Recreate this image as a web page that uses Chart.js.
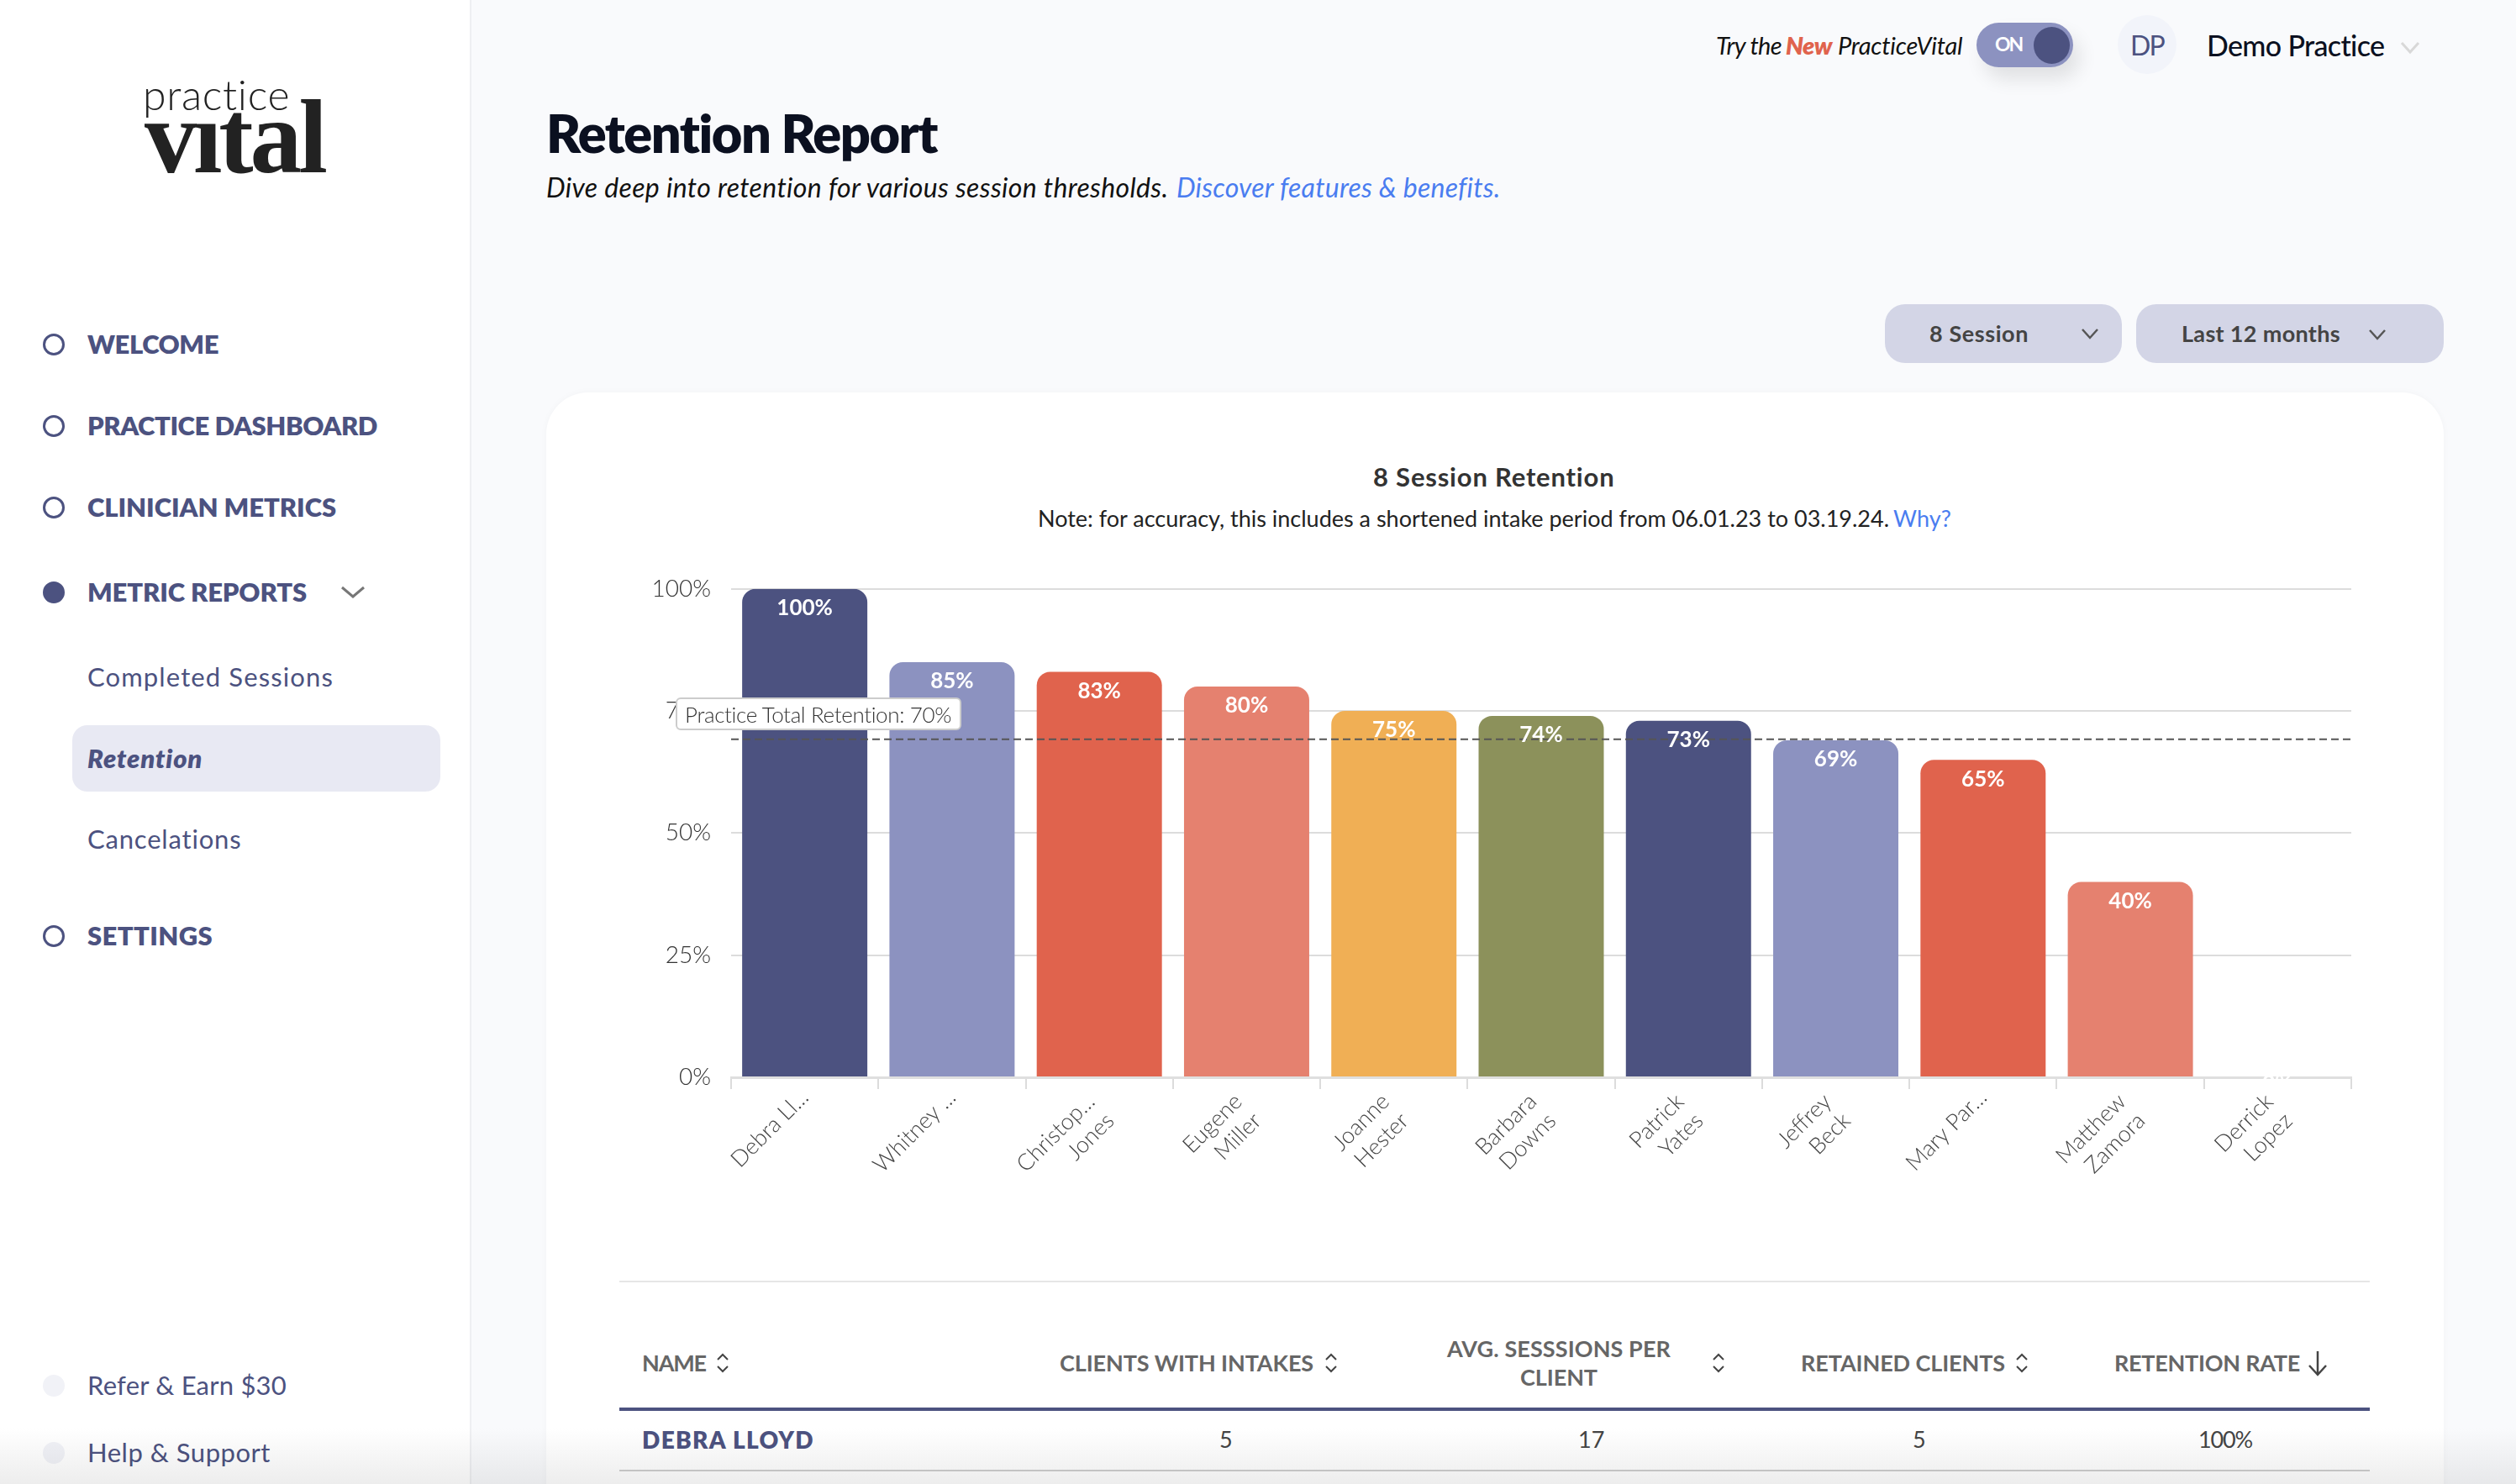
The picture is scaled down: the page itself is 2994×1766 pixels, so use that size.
<!DOCTYPE html>
<html>
<head>
<meta charset="utf-8">
<title>Retention Report</title>
<script src="https://cdn.jsdelivr.net/npm/chart.js@4"></script>
<style>
html, body { margin: 0; padding: 0; width: 2994px; height: 1766px; overflow: hidden; background: #f9fafc; font-family: Lato, sans-serif; }
.box { position: absolute; box-sizing: border-box; }
.t { position: absolute; white-space: nowrap; transform: translateY(-50%); line-height: 1.2; }
.nav { color: #4c5280; font-weight: 800; font-size: 31px; }
.sub { color: #4c5280; font-weight: 400; font-size: 31px; }
.dot { position: absolute; box-sizing: border-box; left: 51px; width: 26px; height: 26px; border-radius: 50%; border: 3px solid #4c5280; transform: translateY(-50%); }
.th { color: #666; font-weight: 700; font-size: 27px; }
.td { color: #444; font-size: 27px; }
.ic { position: absolute; fill: none; }
#chartCanvas { position: absolute; left: 740px; top: 660px; }
</style>
</head>
<body>
<!-- sidebar -->
<div class="box" style="left:0;top:0;width:561px;height:1766px;background:#fff;border-right:2px solid #eeeff2"></div>
<span class="t" data-w="176" style="left:170px;top:112px;font-size:50px;font-weight:300;color:#222">practice</span>
<span class="t" data-w="214" style="left:172px;top:164px;font-family:'Liberation Serif',serif;font-size:124px;font-weight:700;color:#222">vıtal</span>

<div class="dot" style="top:410px"></div><span class="t nav" data-w="156" style="left:104px;top:410px">WELCOME</span>
<div class="dot" style="top:507px"></div><span class="t nav" data-w="345" style="left:104px;top:507px">PRACTICE DASHBOARD</span>
<div class="dot" style="top:604px"></div><span class="t nav" data-w="296" style="left:104px;top:604px">CLINICIAN METRICS</span>
<div class="dot" style="top:705px;background:#4c5280"></div><span class="t nav" data-w="261" style="left:104px;top:705px">METRIC REPORTS</span>
<svg class="ic" style="left:405px;top:694px" width="30" height="22"><polyline points="2,5 15,16 28,5" stroke="#777" stroke-width="3"/></svg>
<span class="t sub" data-w="293" style="left:104px;top:806px">Completed Sessions</span>
<div class="box" style="left:86px;top:863px;width:438px;height:79px;border-radius:18px;background:#e8e9f3"></div>
<span class="t sub" data-w="137" style="left:104px;top:903px;font-weight:800;font-style:italic">Retention</span>
<span class="t sub" data-w="184" style="left:104px;top:999px">Cancelations</span>
<div class="dot" style="top:1114px"></div><span class="t nav" data-w="149" style="left:104px;top:1114px">SETTINGS</span>
<div class="dot" style="top:1649px;background:#f1f2f7;border:0"></div><span class="t sub" data-w="237" style="left:104px;top:1649px">Refer &amp; Earn $30</span>
<div class="dot" style="top:1729px;background:#f1f2f7;border:0"></div><span class="t sub" data-w="218" style="left:104px;top:1729px">Help &amp; Support</span>

<!-- header -->
<span class="t" data-w="466" style="left:650px;top:158px;font-size:63px;font-weight:800;color:#0b1020">Retention Report</span>
<span class="t" data-w="740" style="left:650px;top:223px;font-size:32px;font-style:italic;font-weight:400;color:#111">Dive deep into retention for various session thresholds.</span>
<span class="t" data-w="385" style="left:1400px;top:223px;font-size:32px;font-style:italic;color:#4a7df0">Discover features &amp; benefits.</span>

<span class="t" data-w="78" style="left:2042px;top:54px;font-size:29px;font-style:italic;color:#111">Try the</span>
<span class="t" data-w="55" style="left:2125px;top:54px;font-size:29px;font-style:italic;font-weight:800;color:#e0634d">New</span>
<span class="t" data-w="148" style="left:2187px;top:54px;font-size:29px;font-style:italic;color:#111">PracticeVital</span>
<div class="box" style="left:2352px;top:27px;width:115px;height:53px;border-radius:27px;background:#8c92c0;box-shadow:8px 14px 22px rgba(0,0,0,.10)"></div>
<div class="box" style="left:2420px;top:32px;width:43px;height:44px;border-radius:50%;background:#4c5280"></div>
<span class="t" data-w="32" style="left:2374px;top:53px;font-size:23px;font-weight:700;color:#fff">ON</span>
<div class="box" style="left:2520px;top:18px;width:70px;height:70px;border-radius:50%;background:#f2f4fa"></div>
<span class="t" data-w="40" style="left:2535px;top:54px;font-size:32px;color:#4c5280">DP</span>
<span class="t" data-w="212" style="left:2626px;top:54px;font-size:34px;font-weight:500;color:#0b1020">Demo Practice</span>
<svg class="ic" style="left:2855px;top:48px" width="26" height="18"><polyline points="3,3 13,14 23,3" stroke="#d8d8d8" stroke-width="3"/></svg>

<div class="box" style="left:2243px;top:362px;width:282px;height:70px;border-radius:24px;background:#d3d5e6"></div>
<span class="t" data-w="118" style="left:2296px;top:397px;font-size:27px;font-weight:700;color:#444">8 Session</span>
<svg class="ic" style="left:2475px;top:389px" width="24" height="16"><polyline points="3,3 12,13 21,3" stroke="#555" stroke-width="2.5"/></svg>
<div class="box" style="left:2542px;top:362px;width:366px;height:70px;border-radius:24px;background:#d3d5e6"></div>
<span class="t" data-w="189" style="left:2596px;top:397px;font-size:27px;font-weight:700;color:#444">Last 12 months</span>
<svg class="ic" style="left:2817px;top:390px" width="24" height="16"><polyline points="3,3 12,13 21,3" stroke="#555" stroke-width="2.5"/></svg>

<!-- card -->
<div class="box" style="left:650px;top:467px;width:2258px;height:1400px;border-radius:50px;background:#fff;box-shadow:0 0 8px rgba(0,0,0,.03)"></div>
<span class="t" data-w="288" style="left:1634px;top:568px;font-size:31px;font-weight:700;color:#333">8 Session Retention</span>
<span class="t" data-w="1013" style="left:1235px;top:617px;font-size:27px;color:#222">Note: for accuracy, this includes a shortened intake period from 06.01.23 to 03.19.24.</span>
<span class="t" data-w="69" style="left:2253px;top:617px;font-size:27px;color:#4a7df0">Why?</span>

<canvas id="chartCanvas" width="2070" height="800"></canvas>

<div class="box" style="left:804px;top:830px;width:340px;height:39px;border-radius:6px;background:#fff;border:2px solid #ccc"></div>
<span class="t" data-w="318" style="left:815px;top:851px;font-size:26px;font-weight:300;color:#333">Practice Total Retention: 70%</span>

<!-- table -->
<div class="box" style="left:737px;top:1524px;width:2083px;height:2px;background:#e6e6e6"></div>
<span class="t th" data-w="76" style="left:764px;top:1622px">NAME</span>
<span class="t th" data-w="302" style="left:1261px;top:1622px">CLIENTS WITH INTAKES</span>
<span class="t th" data-w="266" style="left:1722px;top:1605px">AVG. SESSSIONS PER</span>
<span class="t th" data-w="92" style="left:1809px;top:1639px">CLIENT</span>
<span class="t th" data-w="243" style="left:2143px;top:1622px">RETAINED CLIENTS</span>
<span class="t th" data-w="221" style="left:2516px;top:1622px">RETENTION RATE</span>
<svg class="ic" style="left:2745px;top:1606px" width="26" height="32"><path d="M13 2V29M3 19L13 30L23 19" stroke="#444" stroke-width="2.5"/></svg>
<div class="box" style="left:737px;top:1675px;width:2083px;height:4px;background:#4c5280"></div>
<span class="t" data-w="205" style="left:764px;top:1714px;font-size:28px;font-weight:800;color:#4c5280">DEBRA LLOYD</span>
<span class="t td" style="left:1451px;top:1713px">5</span>
<span class="t td" style="left:1878px;top:1713px">17</span>
<span class="t td" style="left:2276px;top:1713px">5</span>
<span class="t td" data-w="64" style="left:2616px;top:1713px">100%</span>
<div class="box" style="left:737px;top:1749px;width:2083px;height:2px;background:#cfcfcf"></div>
<div class="box" style="left:0;top:1700px;width:2994px;height:66px;background:linear-gradient(#fff,#ededed);mix-blend-mode:multiply"></div>

<script>
// --- chart data ---
const clientNames = [
    ['Debra Ll...'], ['Whitney ...'], ['Christop...', 'Jones'], ['Eugene', 'Miller'],
    ['Joanne', 'Hester'], ['Barbara', 'Downs'], ['Patrick', 'Yates'], ['Jeffrey', 'Beck'],
    ['Mary Par...'], ['Matthew', 'Zamora'], ['Derrick', 'Lopez']
];
const retentionRates = [100, 85, 83, 80, 75, 74, 73, 69, 65, 40, 0];
const barPalette = ['#4c5280', '#8c92c0', '#e0634d', '#e5816f', '#f0af55', '#8c915b'];
const practiceTotal = 69.2;
const yTickStep = 25;

// sort arrows in the table header
[860, 1584, 2045, 2406].forEach(x => {
    document.body.insertAdjacentHTML('beforeend',
        `<svg class="ic" style="left:${x - 8}px;top:1610px" width="16" height="24"><path d="M2 8L8 2L14 8M2 16L8 22L14 16" stroke="#444" stroke-width="2"/></svg>`);
});

// stretch the tracking so the texts take the reference's width
document.querySelectorAll('.t[data-w]').forEach(el => {
    const extra = +el.dataset.w - el.getBoundingClientRect().width;
    el.style.letterSpacing = (extra / el.textContent.length) + 'px';
});

// white percentage inside the top of each bar
const barLabels = {
    id: 'barLabels',
    afterDatasetsDraw(chart) {
        const ctx = chart.ctx;
        const bars = chart.getDatasetMeta(0).data;
        ctx.save();
        ctx.font = '700 26px Lato';
        ctx.fillStyle = '#fff';
        ctx.textAlign = 'center';
        ctx.textBaseline = 'middle';
        bars.forEach((bar, i) => {
            const y = Math.min(bar.y + 23, chart.chartArea.bottom + 8);
            ctx.fillText(retentionRates[i] + '%', bar.x, y);
        });
        ctx.restore();
    }
};

// two-line names sit a little further left than v4 puts them
const nudgeNames = {
    id: 'nudgeNames',
    beforeDraw(chart) {
        chart.scales.x.getLabelItems().forEach(item => {
            if (item.label.length > 1) {
                item.options.translation[0] -= 10;
                item.options.translation[1] += 5;
            }
        });
    }
};

new Chart(document.getElementById('chartCanvas').getContext('2d'), {
    type: 'bar',
    data: {
        labels: clientNames,
        datasets: [{
            data: retentionRates,
            backgroundColor: retentionRates.map((v, i) => barPalette[i % barPalette.length]),
            grouped: false,
            barPercentage: 0.85,
            categoryPercentage: 1,
            borderRadius: { topLeft: 16, topRight: 16 },
            borderSkipped: 'bottom',
            order: 2
        }, {
            type: 'line',
            xAxisID: 'xLine',
            data: [{ x: 0, y: practiceTotal }, { x: 1, y: practiceTotal }],
            borderColor: '#555',
            borderWidth: 2,
            borderDash: [9, 5],
            pointRadius: 0,
            order: 1
        }]
    },
    options: {
        responsive: false,
        animation: false,
        layout: { padding: { top: 40, right: 12, left: 0, bottom: 0 } },
        plugins: { legend: { display: false }, tooltip: { enabled: false } },
        scales: {
            x: {
                afterFit(scale) { scale.height = 178; },
                grid: { drawOnChartArea: false, color: '#dcdcdc', lineWidth: 2, tickLength: 14 },
                border: { color: '#dfdfdf', width: 3 },
                ticks: {
                    autoSkip: false, minRotation: 45, maxRotation: 45, padding: -6,
                    color: '#444', font: { family: 'Lato', size: 27, weight: 300 }
                }
            },
            xLine: { type: 'linear', min: 0, max: 1, offset: false, display: false },
            y: {
                min: 0, max: 100,
                afterFit(scale) { scale.width = 130; },
                grid: { color: '#dcdcdc', lineWidth: 2, drawTicks: false },
                border: { display: false },
                ticks: {
                    stepSize: yTickStep, padding: 24, color: '#333',
                    font: { family: 'Lato', size: 28, weight: 300 },
                    callback: value => value + '%'
                }
            }
        }
    },
    plugins: [barLabels, nudgeNames]
});
</script>
</body>
</html>
